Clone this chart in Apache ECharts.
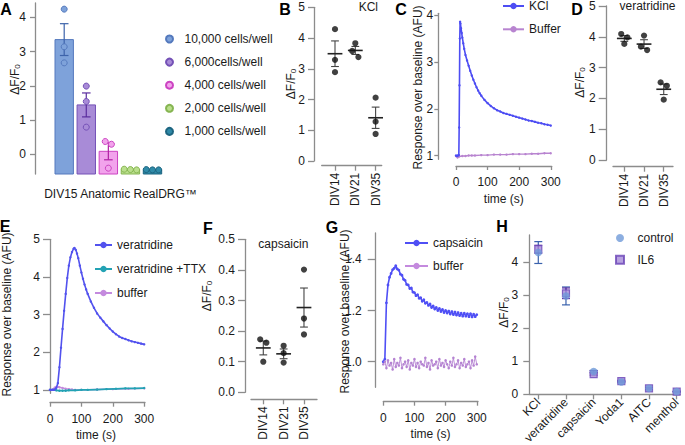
<!DOCTYPE html>
<html><head><meta charset="utf-8">
<script src="https://cdn.jsdelivr.net/npm/echarts@6/dist/echarts.min.js"></script>
<style>html,body{margin:0;padding:0;background:#fff}#c{width:685px;height:445px}</style>
</head><body><div id="c"></div>
<script>
// ================= DATA =================
// Panel A
const aGroups = ['10,000 cells/well','6,000cells/well','4,000 cells/well','2,000 cells/well','1,000 cells/well'];
const aPoints = [[4.24,3.14,2.67],[1.99,1.54,0.79],[0.37,0.29,-0.41],[-0.45,-0.46,-0.44],[-0.46,-0.45,-0.46]];
const aTicks = [0,1,2,3,4];
const aXTitle = 'DIV15 Anatomic RealDRG™';
// Panels B, D, F
const divCats = ['DIV14','DIV21','DIV35'];
const bPoints = [[4.29,3.29,2.89],[3.83,3.58,3.38],[2.06,1.28,0.88]];
const bTicks = [0,1,2,3,4,5];
const dPoints = [[4.09,3.98,3.77],[4.04,3.68,3.57],[2.52,2.41,1.96]];
const dTicks = [0,1,2,3,4,5];
const fPoints = [[0.173,0.162,0.100],[0.152,0.128,0.097],[0.401,0.241,0.189]];
const fTicks = [0,0.1,0.2,0.3,0.4,0.5];
// Panel C
const timeTicks = [0,100,200,300];
const cKClTime = [0,3,6,9,10,11,12,13,14,16,18,20,23,26,30,35,40,45,50,55,60,65,70,75,80,90,100,110,120,130,140,150,160,170,180,190,200,210,220,230,240,250,260,270,280,290,300];
const cKCl = [1.00,0.99,1.00,1.01,1.60,2.50,3.50,3.86,3.82,3.72,3.62,3.52,3.40,3.28,3.15,3.03,2.92,2.81,2.71,2.62,2.54,2.46,2.39,2.33,2.28,2.19,2.12,2.06,2.01,1.97,1.94,1.91,1.89,1.87,1.85,1.83,1.81,1.79,1.77,1.75,1.74,1.72,1.70,1.69,1.67,1.66,1.64];
const cBufferTime = [0,5,10,20,30,40,50,60,80,100,120,140,160,180,200,220,240,260,280,300];
const cBuffer = [0.99,0.96,0.98,0.99,0.99,1.00,1.00,1.00,1.01,1.01,1.02,1.02,1.02,1.03,1.03,1.03,1.04,1.04,1.05,1.05];
const cTicks = [1,2,3,4];
// Panel E
const eVerTime = [0,5,10,15,20,25,30,35,40,45,50,55,60,65,70,75,78,82,86,90,95,100,105,110,115,120,130,140,150,160,170,180,190,200,210,220,230,240,250,260,270,280,290,300];
const eVer = [1.00,1.00,1.00,1.01,1.05,1.18,1.60,2.12,2.62,3.10,3.55,3.97,4.30,4.52,4.66,4.75,4.77,4.72,4.62,4.50,4.30,4.12,3.95,3.80,3.67,3.55,3.35,3.18,3.03,2.92,2.82,2.72,2.63,2.55,2.48,2.42,2.38,2.35,2.32,2.29,2.27,2.25,2.23,2.21];
const eTtxTime = [0,10,20,30,40,50,60,80,100,120,150,180,210,240,270,300];
const eTtx = [1.00,1.00,0.99,0.98,0.98,0.98,0.99,0.99,1.00,1.00,1.01,1.02,1.03,1.04,1.04,1.05];
const eBufTime = [0,10,15,20,25,30,40,50,60,70,80,100,150,200,250,300];
const eBuf = [1.00,1.02,1.06,1.08,1.08,1.07,1.05,1.03,1.02,1.01,1.00,1.00,1.01,1.02,1.03,1.04];
const eTicks = [1,2,3,4,5];
// Panel G
const gTime = [0,5,10,15,20,25,30,35,40,45,50,55,60,65,70,75,80,85,90,95,100,105,110,115,120,125,130,135,140,145,150,155,160,165,170,175,180,185,190,195,200,205,210,215,220,225,230,235,240,245,250,255,260,265,270,275,280,285,290,295,300];
const gCaps = [1.000,1.010,1.230,1.300,1.330,1.345,1.360,1.365,1.375,1.362,
               1.358,1.342,1.338,1.322,1.318,1.302,1.300,1.286,1.288,1.272,
               1.270,1.258,1.262,1.248,1.250,1.236,1.242,1.228,1.232,1.220,
               1.226,1.212,1.218,1.206,1.212,1.200,1.208,1.196,1.204,1.192,
               1.200,1.190,1.198,1.186,1.196,1.184,1.194,1.182,1.192,1.180,
               1.190,1.178,1.190,1.178,1.188,1.176,1.188,1.175,1.186,1.176,
               1.184];
const gBuf = [0.990,1.000,0.975,1.005,0.985,0.995,0.970,1.010,0.980,0.995,
              0.985,1.015,0.975,0.990,1.000,0.980,1.005,0.970,0.995,0.985,
              1.010,0.980,0.995,0.975,1.000,0.990,0.985,1.015,0.980,0.995,
              0.970,1.005,0.985,0.990,1.000,0.975,1.010,0.985,0.995,0.980,
              1.005,0.990,0.975,1.000,0.985,1.015,0.980,0.990,1.005,0.975,
              0.995,0.985,1.010,0.980,0.990,1.000,0.975,1.005,0.985,1.020,
              0.990];
const gTicks = [1.0,1.2,1.4];
// Panel H
const hCats = ['KCl','veratridine','capsaicin','Yoda1','AITC','menthol'];
const hControl = [4.28,2.97,0.69,0.37,0.18,0.08];
const hControlSem = [0.33,0.27,0.03,0.02,0.02,0.01];
const hIL6 = [4.38,3.05,0.61,0.40,0.18,0.08];
const hIL6Sem = [0.12,0.16,0.03,0.02,0.02,0.01];
const hTicks = [0,1,2,3,4];

// ================= LAYOUT / STYLE =================
const FONT = '"Liberation Sans", Arial, Helvetica, sans-serif';
const AXC = '#8c8c8c';
const TXT = '#1a1a1a';
const L = {
  A:{left:35, top:3, width:130, height:171, xMin:-1.323, xMax:4.567, yMin:-0.58, yMax:4.42},
  B:{left:321.7, top:7.3, width:60, height:153.7, xMin:-0.655, xMax:2.3, yMin:0, yMax:5, yOff:7.7, xOff:4.7},
  C:{left:456, top:13.3, width:95.7, height:146, xMin:0, xMax:303, yMin:0.92, yMax:4.04, yOff:17.7, xOff:6.7},
  D:{left:613, top:6, width:60, height:154, xMin:-0.574, xMax:2.47, yMin:0, yMax:5, yOff:6.3, xOff:6.7},
  E:{left:50, top:239.3, width:95, height:154, xMin:0, xMax:302.5, yMin:0.91, yMax:5.0, yOff:0, xOff:9.4},
  F:{left:251, top:239.3, width:66, height:153, xMin:-0.604, xMax:2.64, yMin:0, yMax:0.5, yOff:6, xOff:7},
  G:{left:383.3, top:233, width:94.7, height:154.3, xMin:0, xMax:304, yMin:0.9, yMax:1.503, yOff:7.6, xOff:14.4},
  H:{left:529.3, top:235, width:150.7, height:159.3, xMin:-0.325, xMax:5.12, yMin:0, yMax:4.81, yOff:0, xOff:0}
};
const KEYS = ['A','B','C','D','E','F','G','H'];
const aStyle = [
  {fill:'#7ea2da', stroke:'#5479bd', err:'#3d63aa'},
  {fill:'#a88bd7', stroke:'#7451b6', err:'#5a2d9e'},
  {fill:'#f2a3ec', stroke:'#cc43c2', err:'#b01fa3'},
  {fill:'#badf8c', stroke:'#86b552', err:'#6e9a3e'},
  {fill:'#2f8aa8', stroke:'#1d6580', err:'#1d6580'}
];

// ================= HELPERS =================
const mean = a => a.reduce((s,v)=>s+v,0)/a.length;
const sem = a => { const m=mean(a); return Math.sqrt(a.reduce((s,x)=>s+(x-m)*(x-m),0)/(a.length-1)/a.length); };
const zip = (t,v) => t.map((x,i)=>[x,v[i]]);
const pxY = k => L[k].height/(L[k].yMax-L[k].yMin);
const pxX = k => L[k].width/(L[k].xMax-L[k].xMin);
// GraphPad-like swarm: overlapping points spread horizontally (returns px offsets)
function swarm(vals, pxPerUnit, dot){
  const idx = vals.map((v,i)=>i).sort((a,b)=>vals[b]-vals[a]);
  const off = vals.map(()=>0);
  let cl = [idx[0]];
  const flush = () => { const n=cl.length; cl.forEach((k,j)=>{ off[k]=(j-(n-1)/2)*dot; }); };
  for (let j=1;j<idx.length;j++){
    if ((vals[idx[j-1]]-vals[idx[j]])*pxPerUnit < dot) cl.push(idx[j]); else { flush(); cl=[idx[j]]; }
  }
  flush();
  return off;
}
function swarmData(k, i, vals){
  const off = swarm(vals, pxY(k), 6.2);
  return vals.map((v,j)=>[i+off[j]/pxX(k), v]);
}

function yAxisFor(k, ticks, tickLen, margin, fmt){
  const l=L[k];
  return {type:'value', gridIndex:KEYS.indexOf(k), min:l.yMin, max:l.yMax, offset:l.yOff||0, position:'left',
    axisLine:{show:true,onZero:false,lineStyle:{color:AXC,width:1.3}},
    axisTick:{show:true,inside:false,length:tickLen,customValues:ticks,lineStyle:{color:AXC,width:1.3}},
    axisLabel:{show:true,customValues:ticks,margin:margin,fontSize:12,fontFamily:FONT,color:TXT,formatter:fmt},
    splitLine:{show:false}};
}
function xAxisFor(k, ticks, o){
  const l=L[k];
  return {type:'value', gridIndex:KEYS.indexOf(k), min:l.xMin, max:l.xMax, offset:l.xOff||0, position:'bottom',
    axisLine:{show:true,onZero:false,lineStyle:{color:AXC,width:1.3}},
    axisTick:{show:true,inside:false,length:o.tickLen||5,customValues:ticks,lineStyle:{color:AXC,width:1.3}},
    axisLabel:{show:true,customValues:ticks,margin:o.margin,rotate:o.rotate||0,fontSize:12,fontFamily:FONT,color:TXT,formatter:o.fmt},
    splitLine:{show:false}};
}
const catFmt = cats => (v => cats[Math.round(v)]);

function aBarItem(params, api){
  const i=api.value(0), m=api.value(1), s=api.value(2), st=aStyle[i];
  const c=api.coord([i,m]), b=api.coord([i,L.A.yMin]), t=api.coord([i,m+s]), lo=api.coord([i,m-s]);
  const hw=9.2, cw=4.3;
  return {type:'group', children:[
    {type:'rect', shape:{x:c[0]-hw,y:c[1],width:2*hw,height:b[1]-c[1]}, style:{fill:st.fill,stroke:st.stroke,lineWidth:1}},
    {type:'line', shape:{x1:c[0],y1:t[1],x2:c[0],y2:lo[1]}, style:{stroke:st.err,lineWidth:1.2}},
    {type:'line', shape:{x1:c[0]-cw,y1:t[1],x2:c[0]+cw,y2:t[1]}, style:{stroke:st.err,lineWidth:1.2}},
    {type:'line', shape:{x1:c[0]-cw,y1:lo[1],x2:c[0]+cw,y2:lo[1]}, style:{stroke:st.err,lineWidth:1.2}}
  ]};
}
function meanSemItem(params, api){
  const i=api.value(0), m=api.value(1), s=api.value(2);
  const c=api.coord([i,m]), t=api.coord([i,m+s]), lo=api.coord([i,m-s]);
  const hw=7.4, cw=3.9, col='#222';
  return {type:'group', children:[
    {type:'line', shape:{x1:c[0],y1:t[1],x2:c[0],y2:lo[1]}, style:{stroke:'#444',lineWidth:1.1}},
    {type:'line', shape:{x1:c[0]-cw,y1:t[1],x2:c[0]+cw,y2:t[1]}, style:{stroke:'#444',lineWidth:1.1}},
    {type:'line', shape:{x1:c[0]-cw,y1:lo[1],x2:c[0]+cw,y2:lo[1]}, style:{stroke:'#444',lineWidth:1.1}},
    {type:'line', shape:{x1:c[0]-hw,y1:c[1],x2:c[0]+hw,y2:c[1]}, style:{stroke:col,lineWidth:1.6}}
  ]};
}
function errItem(color){
  return function(params, api){
    const i=api.value(0), m=api.value(1), s=api.value(2);
    const t=api.coord([i,m+s]), lo=api.coord([i,m-s]), cw=4;
    return {type:'group', children:[
      {type:'line', shape:{x1:t[0],y1:t[1],x2:t[0],y2:lo[1]}, style:{stroke:color,lineWidth:1.2}},
      {type:'line', shape:{x1:t[0]-cw,y1:t[1],x2:t[0]+cw,y2:t[1]}, style:{stroke:color,lineWidth:1.2}},
      {type:'line', shape:{x1:t[0]-cw,y1:lo[1],x2:t[0]+cw,y2:lo[1]}, style:{stroke:color,lineWidth:1.2}}
    ]};
  };
}
const msData = pts => pts.map((p,i)=>[i, mean(p), sem(p)]);
function lineSeries(name, k, data, color, z, w, sym){
  return {type:'line', name, xAxisIndex:KEYS.indexOf(k), yAxisIndex:KEYS.indexOf(k), data,
    showSymbol:true, symbol:'circle', symbolSize:sym||2.4, z:z||2,
    lineStyle:{color, width:w||1.4}, itemStyle:{color}, emphasis:{disabled:true}};
}

// ================= TEXT =================
function letter(t,x,y){ return {type:'text', x, y, style:{text:t, fill:'#000', fontSize:16, fontWeight:'bold', fontFamily:FONT, align:'center', verticalAlign:'middle'}}; }
function txt(t,x,y){ return {type:'text', x, y, style:{text:t, fill:TXT, fontSize:12, fontFamily:FONT, align:'center', verticalAlign:'middle'}}; }
function rot(t,x,y){ return {type:'text', x, y, rotation:Math.PI/2, style:{text:t, fill:TXT, fontSize:12, fontFamily:FONT, align:'center', verticalAlign:'middle'}}; }
function dff(x,y){ return {type:'text', x, y, rotation:Math.PI/2, style:{text:'{m|ΔF/F}{s|0}', align:'center', verticalAlign:'middle',
  rich:{m:{fontSize:12,fontFamily:FONT,fill:TXT,lineHeight:12,verticalAlign:'top'}, s:{fontSize:8,fontFamily:FONT,fill:TXT,lineHeight:8,padding:[6,0,0,0],verticalAlign:'bottom'}}}}; }

const RESP = 'Response over baseline (AFU)';
const graphic = [
  letter('A',6,9), letter('B',285,9), letter('C',401,9), letter('D',577,9),
  letter('E',5,226), letter('F',208,228), letter('G',332,227), letter('H',502,226),
  dff(15,79.5), dff(291,84), dff(580,82.5), dff(207,296), dff(504,312.5),
  rot(RESP,417.5,87.5), rot(RESP,6.5,314.5), rot(RESP,345,311.5),
  txt('time (s)',503.8,199), txt('time (s)',96,435), txt('time (s)',430.6,434),
  txt(aXTitle,120.5,193.8),
  txt('KCl',368.3,7), txt('veratridine',647.5,6), txt('capsaicin',283.3,243.5)
];

// ================= OPTION =================
const legendText = {fontSize:12, color:TXT, fontFamily:FONT};
const SQUARE = 'path://M0,0H10V10H0Z';
const option = {
  animation:false,
  textStyle:{fontFamily:FONT},
  grid: KEYS.map(k=>({left:L[k].left, top:L[k].top, width:L[k].width, height:L[k].height, containLabel:false, outerBoundsMode:'none'})),
  xAxis: [
    {type:'value', gridIndex:0, min:L.A.xMin, max:L.A.xMax, show:false},
    xAxisFor('B',[0,1,2],{margin:7,rotate:90,fmt:catFmt(divCats)}),
    xAxisFor('C',timeTicks,{margin:10,tickLen:4}),
    xAxisFor('D',[0,1,2],{margin:7,rotate:90,fmt:catFmt(divCats)}),
    xAxisFor('E',timeTicks,{margin:10,tickLen:4}),
    xAxisFor('F',[0,1,2],{margin:7,rotate:90,fmt:catFmt(divCats)}),
    xAxisFor('G',timeTicks,{margin:10,tickLen:4}),
    xAxisFor('H',[0,1,2,3,4,5],{margin:6,rotate:45,fmt:catFmt(hCats)})
  ],
  yAxis: [
    yAxisFor('A',aTicks,5,9),
    yAxisFor('B',bTicks,6,9),
    yAxisFor('C',cTicks,4,5),
    yAxisFor('D',dTicks,8,11),
    yAxisFor('E',eTicks,7,10),
    yAxisFor('F',fTicks,7,10,v=>v.toFixed(1)),
    yAxisFor('G',gTicks,8,14,v=>v.toFixed(1)),
    yAxisFor('H',hTicks,6,11)
  ],
  legend: [
    {data:aGroups, orient:'vertical', left:165, top:33, itemWidth:20, itemHeight:7, itemGap:11.1, padding:0, selectedMode:false, icon:'circle', textStyle:legendText},
    {data:['KCl','Buffer'], orient:'vertical', left:502, top:0, itemWidth:21, itemHeight:8, itemGap:11.3, padding:0, selectedMode:false, textStyle:legendText},
    {data:['veratridine','veratridine +TTX','buffer'], orient:'vertical', left:94, top:239, itemWidth:17, itemHeight:8, itemGap:12, padding:0, selectedMode:false, textStyle:legendText},
    {data:['capsaicin','buffer'], orient:'vertical', left:404, top:237, itemWidth:23, itemHeight:8, itemGap:11, padding:0, selectedMode:false, textStyle:legendText},
    {data:[{name:'control', icon:'circle'},{name:'IL6', icon:SQUARE}], orient:'vertical', left:615, top:232, itemWidth:25, itemHeight:8, itemGap:9.7, padding:0, selectedMode:false, symbolKeepAspect:true, textStyle:legendText}
  ],
  graphic: graphic,
  series: []
};

// A
option.series.push({type:'custom', name:'A bars', xAxisIndex:0, yAxisIndex:0, renderItem:aBarItem, z:2,
  data: aPoints.map((p,i)=>[i, mean(p), sem(p)]), encode:{x:0,y:1}});
aGroups.forEach((g,i)=>{
  option.series.push({type:'scatter', name:g, xAxisIndex:0, yAxisIndex:0, z:3, symbolSize:6,
    itemStyle:{color:aStyle[i].fill, borderColor:aStyle[i].stroke, borderWidth:1, opacity:1},
    data: swarmData('A', i, aPoints[i])});
});
// B, D, F
[['B',bPoints],['D',dPoints],['F',fPoints]].forEach(([k,pts])=>{
  const gi = KEYS.indexOf(k);
  option.series.push({type:'custom', name:k+' mean', xAxisIndex:gi, yAxisIndex:gi, renderItem:meanSemItem, z:2, data:msData(pts), encode:{x:0,y:1}});
  option.series.push({type:'scatter', name:k+' points', xAxisIndex:gi, yAxisIndex:gi, z:3, symbolSize:6.2,
    itemStyle:{color:'#111'}, data: pts.flatMap((p,i)=>swarmData(k,i,p))});
});
// C
option.series.push(lineSeries('Buffer','C',zip(cBufferTime,cBuffer),'#b884d0',2));
option.series.push(lineSeries('KCl','C',zip(cKClTime,cKCl),'#4d4df3',3,1.6));
// E
option.series.push(lineSeries('buffer','E',zip(eBufTime,eBuf),'#c48ade',2));
option.series.push(lineSeries('veratridine +TTX','E',zip(eTtxTime,eTtx),'#23a2b4',3,1.8));
option.series.push(lineSeries('veratridine','E',zip(eVerTime,eVer),'#5252ee',4,1.6));
// G
option.series.push(lineSeries('capsaicin','G',zip(gTime,gCaps),'#4f4ff5',2,1.6,2.8));
option.series.push(lineSeries('buffer','G',zip(gTime,gBuf),'#b583d2',3,0.9,2.6));
// H
option.series.push({type:'custom', name:'control sem', xAxisIndex:7, yAxisIndex:7, renderItem:errItem('#3a62ad'), z:2,
  data:hControl.map((m,i)=>[i,m,hControlSem[i]]), encode:{x:0,y:1}});
option.series.push({type:'custom', name:'IL6 sem', xAxisIndex:7, yAxisIndex:7, renderItem:errItem('#5f35a8'), z:2,
  data:hIL6.map((m,i)=>[i,m,hIL6Sem[i]]), encode:{x:0,y:1}});
option.series.push({type:'scatter', name:'IL6', xAxisIndex:7, yAxisIndex:7, z:3, symbol:'rect', symbolSize:7,
  itemStyle:{color:'#a58bd8', borderColor:'#6a44b6', borderWidth:1.2}, data:hIL6.map((v,i)=>[i,v])});
option.series.push({type:'scatter', name:'control', xAxisIndex:7, yAxisIndex:7, z:4, symbol:'circle', symbolSize:7.5,
  itemStyle:{color:'#6f9ad8'}, data:hControl.map((v,i)=>[i,v])});

const chart = echarts.init(document.getElementById('c'), null, {renderer:'svg', width:685, height:445});
chart.setOption(option);
</script>
</body></html>
